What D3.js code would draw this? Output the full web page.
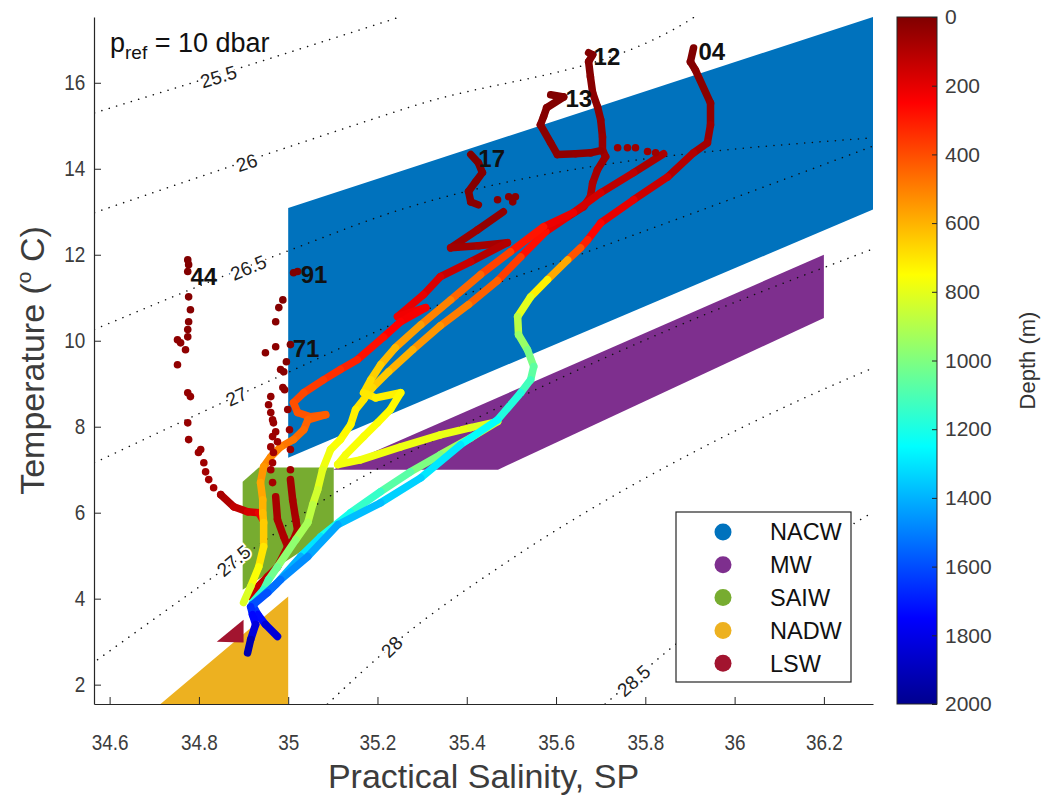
<!DOCTYPE html>
<html>
<head>
<meta charset="utf-8">
<script src="https://cdn.jsdelivr.net/npm/d3@7"></script>
<style>
  body { margin: 0; background: #fff; }
  text { font-family: "Liberation Sans", Arial, Helvetica, sans-serif; }
</style>
</head>
<body>
<svg id="chart" width="1044" height="796"></svg>
<script>
// ---- data ----
const salinityTicks = [34.6, 34.8, 35, 35.2, 35.4, 35.6, 35.8, 36, 36.2];
const tempTicks = [2, 4, 6, 8, 10, 12, 14, 16];
const depthTicks = [0, 200, 400, 600, 800, 1000, 1200, 1400, 1600, 1800, 2000];

const massNames = ["NACW", "MW", "SAIW", "NADW", "LSW"];
const massColors = ["#0072bd", "#7e2f8e", "#77ac30", "#edb120", "#a2142f"];
// water mass areas [S, T]
const nacw = [[35.0, 7.28], [35.0, 13.09], [36.31, 17.53], [36.31, 13.05]];
const mw = [[35.1, 7.0], [35.47, 7.0], [36.2, 10.53], [36.2, 12.0]];
const saiw = [[34.898, 4.21], [34.898, 6.72], [34.934, 7.05], [35.102, 7.05], [35.102, 5.6]];
const nadw = [[34.714, 1.55], [35.0, 4.05], [35.0, 1.55]];
const lsw = [[34.84, 3.0], [34.9, 3.51], [34.9, 2.98]];

// potential density anomaly contours, [S, T]
const sigmaLevels = ["25.5", "26", "26.5", "27", "27.5", "28", "28.5"];
const sig255 = [[34.566, 15.30], [34.844, 16.19], [35.25, 17.53]];
const sig260 = [[34.566, 12.98], [35.274, 15.44], [35.901, 17.47], [35.91, 17.53]];
const sig265 = [[34.566, 10.26], [34.990, 12.05], [35.274, 13.12], [36.311, 14.72]];
const sig270 = [[34.566, 7.16], [34.999, 9.26], [35.326, 10.79], [35.671, 12.07], [36.311, 14.53]];
const sig275 = [[34.573, 2.58], [34.878, 4.84], [35.102, 6.44], [35.341, 7.77], [35.863, 10.30], [36.311, 12.14]];
const sig280 = [[35.088, 1.55], [35.229, 2.88], [35.491, 4.86], [35.722, 6.35], [35.863, 7.16], [36.148, 8.63], [36.311, 9.37]];
const sig285 = [[35.71, 1.55], [35.774, 2.12], [35.861, 2.88], [36.311, 6.02]];
const sigmaLines = [sig255, sig260, sig265, sig270, sig275, sig280, sig285];
// clabel positions [S, T, angle]
const sigmaLabelAt = [[34.844, 16.14, -17], [34.907, 14.14, -18], [34.911, 11.70, -23], [34.884, 8.70, -25],
                      [34.878, 4.88, -40], [35.232, 2.88, -45], [35.774, 2.09, -42]];

// CTD profiles [S, T, depth m]
const st04 = [[35.908, 16.81, 0], [35.901, 16.49, 5], [35.912, 16.30, 10], [35.946, 15.53, 30], [35.946, 15.02, 45],
  [35.939, 14.60, 60], [35.908, 14.37, 80], [35.850, 13.81, 120], [35.774, 13.28, 170], [35.700, 12.74, 230],
  [35.671, 12.35, 280], [35.655, 12.16, 350], [35.626, 11.88, 480], [35.581, 11.42, 680], [35.543, 11.02, 760],
  [35.514, 10.56, 850], [35.516, 10.14, 920], [35.536, 9.79, 980], [35.550, 9.40, 1040], [35.543, 9.09, 1090],
  [35.521, 8.79, 1150], [35.469, 8.16, 1220], [35.386, 7.58, 1270], [35.297, 6.81, 1320], [35.207, 6.23, 1360],
  [35.111, 5.72, 1400], [35.044, 4.98, 1450], [34.983, 4.44, 1500], [34.954, 4.14, 1560], [34.916, 3.81, 1630],
  [34.920, 3.63, 1700], [34.927, 3.40, 1780], [34.916, 3.05, 1880], [34.909, 2.74, 1980]];
const st13top = [[35.588, 15.72, 0], [35.617, 15.67, 2], [35.579, 15.42, 8], [35.572, 15.21, 12], [35.565, 15.02, 16],
  [35.588, 14.60, 22], [35.603, 14.33, 28], [35.644, 14.35, 34], [35.677, 14.37, 40], [35.700, 14.42, 44]];
const st13dots = [[35.738, 14.49, 50], [35.760, 14.49, 53], [35.778, 14.49, 56], [35.805, 14.40, 60], [35.823, 14.37, 63]];
const st13 = [[35.841, 14.35, 65], [35.774, 13.91, 100], [35.700, 13.44, 140],
  [35.639, 12.98, 190], [35.572, 12.65, 240], [35.498, 12.07, 340], [35.431, 11.54, 420], [35.364, 10.95, 480],
  [35.297, 10.37, 530], [35.240, 9.84, 590], [35.207, 9.44, 640], [35.185, 9.09, 670], [35.169, 8.79, 695],
  [35.196, 8.67, 715], [35.252, 8.79, 735], [35.229, 8.40, 745], [35.200, 8.09, 752], [35.169, 7.77, 758],
  [35.129, 7.35, 765], [35.111, 7.12, 770], [35.162, 7.23, 775], [35.252, 7.53, 780], [35.341, 7.81, 785],
  [35.409, 7.98, 795], [35.469, 8.12, 830], [35.409, 7.74, 900], [35.341, 7.35, 970], [35.274, 6.95, 1040],
  [35.207, 6.49, 1110], [35.140, 6.00, 1180], [35.073, 5.44, 1250], [35.028, 4.98, 1350], [34.972, 4.33, 1450],
  [34.920, 3.86, 1600], [34.932, 3.63, 1680], [34.949, 3.40, 1780], [34.976, 3.12, 1900]];
const st12 = [[35.673, 16.70, 0], [35.682, 16.65, 2], [35.673, 16.49, 5], [35.677, 16.14, 12], [35.682, 15.77, 20],
  [35.693, 15.44, 28], [35.700, 15.14, 35], [35.704, 14.74, 45], [35.704, 14.44, 55], [35.711, 14.28, 60],
  [35.693, 13.98, 70], [35.682, 13.67, 85], [35.677, 13.35, 100], [35.662, 13.12, 120], [35.626, 12.88, 160],
  [35.577, 12.54, 230], [35.521, 11.95, 330], [35.469, 11.40, 410], [35.404, 10.84, 470], [35.341, 10.35, 520],
  [35.279, 9.79, 570], [35.225, 9.28, 625], [35.189, 8.91, 665], [35.169, 8.63, 690], [35.151, 8.40, 710],
  [35.140, 8.05, 730], [35.117, 7.70, 750], [35.095, 7.47, 765], [35.077, 7.00, 790], [35.066, 6.53, 820],
  [35.055, 6.19, 860], [35.044, 5.77, 900], [35.017, 5.37, 940], [34.976, 4.74, 1000], [34.956, 4.44, 1060],
  [34.945, 4.21, 1120], [34.920, 3.91, 1200]];
const st17top = [[35.409, 14.33, 0], [35.426, 14.14, 2], [35.435, 13.91, 5], [35.420, 13.70, 8], [35.404, 13.47, 11],
  [35.409, 13.23, 14], [35.426, 13.16, 17]];
const st17dots = [[35.469, 13.28, 20], [35.494, 13.35, 22], [35.509, 13.35, 24], [35.503, 13.23, 26]];
const st17 = [[35.482, 13.00, 30], [35.424, 12.58, 45], [35.364, 12.16, 60], [35.426, 12.21, 70], [35.491, 12.28, 80],
  [35.409, 11.84, 120], [35.341, 11.49, 160], [35.303, 11.07, 190], [35.245, 10.56, 220], [35.308, 10.77, 230],
  [35.252, 10.44, 240], [35.214, 10.09, 260], [35.155, 9.56, 300], [35.117, 9.33, 330], [35.079, 9.09, 350],
  [35.035, 8.79, 380], [35.012, 8.56, 400], [35.021, 8.33, 410], [35.050, 8.23, 420], [35.084, 8.28, 430],
  [35.044, 8.16, 440], [35.035, 7.93, 450], [35.012, 7.70, 470], [34.983, 7.53, 490], [34.961, 7.30, 510],
  [34.945, 7.07, 530], [34.938, 6.70, 560], [34.943, 6.30, 590], [34.943, 6.00, 610], [34.945, 5.77, 630],
  [34.945, 5.21, 670], [34.934, 4.74, 730], [34.916, 4.28, 790], [34.900, 3.91, 850]];
const st44dots = [[34.775, 11.88, 0], [34.777, 11.77, 3], [34.775, 11.61, 6], [34.777, 11.02, 10], [34.781, 10.72, 13],
  [34.777, 10.44, 16], [34.775, 10.26, 19], [34.775, 10.09, 22], [34.752, 10.02, 25], [34.759, 9.95, 28],
  [34.770, 9.79, 31], [34.752, 9.44, 34], [34.775, 8.79, 37], [34.781, 8.70, 40], [34.775, 8.09, 44],
  [34.777, 7.70, 48], [34.804, 7.47, 52], [34.799, 7.40, 55], [34.811, 7.16, 60], [34.815, 6.95, 64],
  [34.822, 6.77, 68], [34.833, 6.58, 72], [34.849, 6.42, 78]];
const st44 = [[34.849, 6.42, 80], [34.878, 6.14, 110], [34.909, 6.02, 150], [34.934, 6.00, 190], [34.943, 5.84, 230]];
const st91dots = [[35.012, 11.58, 0], [35.021, 11.61, 2], [34.988, 10.95, 8], [34.979, 10.77, 12], [34.972, 10.44, 16],
  [34.949, 9.72, 20], [34.972, 9.86, 24], [34.983, 9.33, 28], [34.988, 8.91, 32], [34.961, 8.70, 36],
  [34.956, 8.51, 40], [34.961, 8.33, 44], [34.965, 8.16, 48], [34.967, 8.09, 50], [34.972, 7.88, 53],
  [34.965, 7.77, 56], [34.976, 7.65, 59], [34.961, 7.53, 62], [34.967, 7.40, 65], [34.965, 7.16, 68],
  [34.961, 7.00, 70], [34.965, 6.70, 72]];
const st91 = [[34.972, 6.37, 75], [34.976, 5.84, 85], [34.990, 5.44, 90], [34.999, 5.21, 95], [34.976, 4.74, 105],
  [34.954, 4.51, 115], [34.932, 4.28, 130], [34.916, 4.05, 150]];
const st71dots = [[35.005, 9.91, 0], [34.996, 9.51, 8], [34.990, 9.28, 15], [34.992, 8.86, 25], [34.999, 8.40, 35],
  [35.003, 7.93, 45], [35.005, 7.47, 55], [35.005, 7.00, 65]];
const st71 = [[35.005, 6.77, 70], [35.010, 6.30, 75], [35.017, 5.84, 80], [35.021, 5.60, 85], [35.012, 5.37, 90],
  [34.999, 5.21, 95]];

const lineStations = [st44, st91, st71, st12, st17top, st17, st13top, st13, st04];
const dotStations = [st44dots, st91dots, st71dots, st17dots, st13dots];
const stationNames = ["04", "12", "13", "17", "44", "91", "71"];
const stationLabelAt = [[35.919, 16.535], [35.684, 16.42], [35.621, 15.44], [35.426, 14.05], [34.781, 11.30], [35.028, 11.35], [35.010, 9.61]];

// ---- drawing ----
const svg = d3.select("#chart");
const L = 94, R = 873, T = 17, B = 704;
const x = d3.scaleLinear().domain([34.565, 36.31]).range([L, R]);
const y = d3.scaleLinear().domain([1.55, 17.53]).range([B, T]);
const dScale = d3.scaleLinear().domain([0, 2000]).range([T, B]);
const jet = d3.scaleLinear()
  .domain([0, 250, 750, 1250, 1750, 2000])
  .range(["#800000", "#ff0000", "#ffff00", "#00ffff", "#0000ff", "#00008f"]);
const axisColor = "#262626";
const textColor = "#3c3c3c";

svg.append("defs").append("clipPath").attr("id", "plot")
  .append("rect").attr("x", L).attr("y", T).attr("width", R - L).attr("height", B - T);

const plot = svg.append("g").attr("clip-path", "url(#plot)");
const poly = d3.line().x(d => x(d[0])).y(d => y(d[1]));

[nacw, mw, saiw, nadw, lsw].forEach((p, i) => {
  plot.append("path").attr("d", poly(p) + "Z").attr("fill", massColors[i]);
});

// contours
const cline = d3.line().x(d => x(d[0])).y(d => y(d[1])).curve(d3.curveMonotoneX);
sigmaLines.forEach(c => {
  plot.append("path").attr("d", cline(c))
    .attr("fill", "none").attr("stroke", "#111").attr("stroke-width", 1.5)
    .attr("stroke-linecap", "round").attr("stroke-dasharray", "0.1 7.6");
});
sigmaLevels.forEach((lev, i) => {
  const [s, t, a] = sigmaLabelAt[i];
  plot.append("text")
    .attr("transform", `translate(${x(s)},${y(t)}) rotate(${a})`)
    .attr("text-anchor", "middle").attr("dy", "0.35em")
    .attr("font-size", 19).attr("fill", "#222")
    .attr("stroke", "#fff").attr("stroke-width", 4).attr("paint-order", "stroke")
    .text(lev);
});

// profiles: dense samples drawn as thick depth-coloured traces
const prof = plot.append("g");
lineStations.forEach(st => {
  for (let i = 1; i < st.length; i++) {
    const a = st[i - 1], b = st[i];
    prof.append("line")
      .attr("x1", x(a[0])).attr("y1", y(a[1])).attr("x2", x(b[0])).attr("y2", y(b[1]))
      .attr("stroke", jet((a[2] + b[2]) / 2)).attr("stroke-width", 7.5).attr("stroke-linecap", "round");
  }
});
dotStations.forEach(st => {
  prof.selectAll(null).data(st).enter().append("circle")
    .attr("cx", d => x(d[0])).attr("cy", d => y(d[1])).attr("r", 3.8)
    .attr("fill", d => jet(d[2]));
});

stationNames.forEach((n, i) => {
  svg.append("text").attr("x", x(stationLabelAt[i][0])).attr("y", y(stationLabelAt[i][1]))
    .attr("font-size", 24).attr("font-weight", "bold").attr("fill", "#111").text(n);
});

// p_ref note
const note = svg.append("text").attr("x", 110).attr("y", 52).attr("font-size", 27).attr("fill", "#111");
note.append("tspan").text("p");
note.append("tspan").attr("font-size", 19).attr("dy", 7).text("ref");
note.append("tspan").attr("dy", -7).text(" = 10 dbar");

// axes
const xAxis = svg.append("g").attr("transform", `translate(0,${B})`)
  .call(d3.axisBottom(x).tickValues(salinityTicks).tickFormat(d3.format("")).tickSize(-7).tickSizeOuter(0).tickPadding(31));
const yAxis = svg.append("g").attr("transform", `translate(${L},0)`)
  .call(d3.axisLeft(y).tickValues(tempTicks).tickSize(-7).tickSizeOuter(0).tickPadding(10));
[xAxis, yAxis].forEach(g => {
  g.select(".domain").attr("stroke", axisColor).attr("stroke-width", 1.2);
  g.selectAll(".tick line").attr("stroke", axisColor);
  g.selectAll(".tick text").attr("font-size", 21.5).attr("fill", textColor)
    .attr("transform", "scale(0.88,1)")
    .attr("font-family", "Liberation Sans, Arial, sans-serif");
});

svg.append("text").attr("x", (L + R) / 2).attr("y", 788).attr("text-anchor", "middle")
  .attr("font-size", 34).attr("fill", textColor).text("Practical Salinity, SP");
const yl = svg.append("text").attr("transform", `translate(44,${(T + B) / 2}) rotate(-90)`)
  .attr("text-anchor", "middle").attr("font-size", 34).attr("fill", textColor);
yl.append("tspan").text("Temperature (");
yl.append("tspan").attr("font-size", 21).attr("dy", -13).text("o");
yl.append("tspan").attr("dy", 13).text(" C)");

// legend
const lg = svg.append("g");
lg.append("rect").attr("x", 676).attr("y", 512).attr("width", 175).attr("height", 170)
  .attr("fill", "#fff").attr("stroke", axisColor).attr("stroke-width", 1.2);
massNames.forEach((n, i) => {
  const yy = 532 + i * 32.8;
  lg.append("circle").attr("cx", 723).attr("cy", yy).attr("r", 8.5).attr("fill", massColors[i]);
  lg.append("text").attr("x", 770).attr("y", yy).attr("dy", "0.36em").attr("font-size", 23.5).attr("fill", "#111").text(n);
});

// colorbar
const cbX = 897, cbW = 40;
const grad = svg.select("defs").append("linearGradient").attr("id", "jet")
  .attr("x1", 0).attr("y1", 0).attr("x2", 0).attr("y2", 1);
jet.domain().forEach(d => grad.append("stop").attr("offset", d / 2000).attr("stop-color", jet(d)));
svg.append("rect").attr("x", cbX).attr("y", T).attr("width", cbW).attr("height", B - T)
  .attr("fill", "url(#jet)").attr("stroke", axisColor).attr("stroke-width", 1);
const cAxis = svg.append("g").attr("transform", `translate(${cbX + cbW},0)`)
  .call(d3.axisRight(dScale).tickValues(depthTicks).tickFormat(d3.format("d")).tickSize(-5).tickSizeOuter(0).tickPadding(8));
cAxis.select(".domain").remove();
cAxis.selectAll(".tick line").attr("stroke", axisColor);
cAxis.selectAll(".tick text").attr("font-size", 21).attr("fill", textColor);
svg.append("text").attr("transform", `translate(1035,${(T + B) / 2}) rotate(-90)`)
  .attr("text-anchor", "middle").attr("font-size", 22).attr("fill", "#333").text("Depth (m)");
</script>
</body>
</html>
